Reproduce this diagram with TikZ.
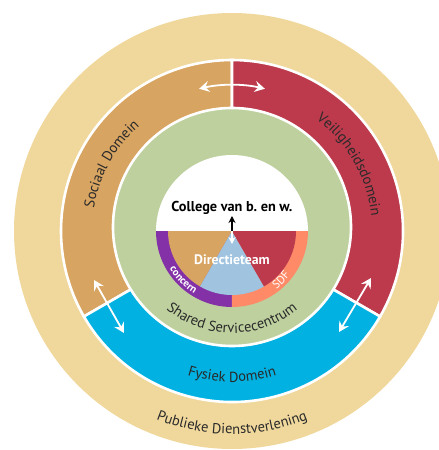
\documentclass[tikz,border=0pt]{standalone}
\usepackage{fontspec}
\setmainfont{PT Sans}
\usetikzlibrary{decorations.text,arrows.meta}
\definecolor{tanc}{HTML}{F0D89C}
\definecolor{orangec}{HTML}{D8A462}
\definecolor{redc}{HTML}{BC3A4C}
\definecolor{bluec}{HTML}{00B1E1}
\definecolor{greenc}{HTML}{BED09E}
\definecolor{purplec}{HTML}{8431A8}
\definecolor{salmonc}{HTML}{FF8A68}
\definecolor{ltbluec}{HTML}{A0C4E0}
\definecolor{txt}{HTML}{2A2A2A}
\tikzset{
  warr/.style={draw=white, line width=1.8pt, {Stealth[length=10pt,width=11pt,inset=3.5pt]}-{Stealth[length=10pt,width=11pt,inset=3.5pt]}},
  sep/.style={draw=white, line width=2.6pt},
  lbl/.style={decorate},
}
\begin{document}
\frenchspacing
\begin{tikzpicture}[x=1pt,y=1pt]
\useasboundingbox (-232,-219) rectangle (207,231);
\clip (-232,-219) rectangle (207,231);
\coordinate (C) at (0,0);
% outer band
\fill[tanc] (C) circle[radius=218];
% domain sectors
\filldraw[fill=orangec, sep] (C) -- (90:171) arc[start angle=90,end angle=210,radius=171] -- cycle;
\filldraw[fill=redc, sep] (C) -- (-30:171) arc[start angle=-30,end angle=90,radius=171] -- cycle;
\filldraw[fill=bluec, sep] (C) -- (210:171) arc[start angle=210,end angle=330,radius=171] -- cycle;
% shared service ring
\filldraw[fill=greenc, sep] (0,4) circle[radius=119];
% inner disk
\fill[white] (C) -- (0:76) arc[start angle=0,end angle=180,radius=76] -- cycle;
\fill[purplec] (C) -- (180:76) arc[start angle=180,end angle=270,radius=76] -- cycle;
\fill[salmonc] (C) -- (270:76) arc[start angle=270,end angle=360,radius=76] -- cycle;
\fill[orangec] (C) -- (180:64) arc[start angle=180,end angle=240,radius=64] -- cycle;
\fill[ltbluec] (C) -- (240:64) arc[start angle=240,end angle=300,radius=64] -- cycle;
\fill[redc] (C) -- (300:64) arc[start angle=300,end angle=360,radius=64] -- cycle;
% curved labels
\path[lbl, decoration={text along path, text align=center, text={|\fontsize{14.5}{16}\selectfont\color{txt}|Sociaal Domein}}]
  (183:140) arc[start angle=183,end angle=119,radius=140];
\path[lbl, decoration={text along path, text align=center, text={|\fontsize{14.5}{16}\selectfont\color{txt}|Veiligheidsdomein}}]
  (67:140) arc[start angle=67,end angle=-8,radius=140];
\path[lbl, decoration={text along path, text align=center, text={|\fontsize{14.5}{16}\selectfont\color{txt}|Fysiek Domein}}]
  (240:151) arc[start angle=240,end angle=300,radius=151];
\path[lbl, decoration={text along path, text align=center, text={|\fontsize{14.5}{16}\selectfont\color{txt}|Shared Servicecentrum}}]
  (210:102) arc[start angle=210,end angle=330,radius=102];
\path[lbl, decoration={text along path, text align=center, text={|\fontsize{14.5}{16}\selectfont\color{txt}|Publieke Dienstverlening}}]
  (238:203) arc[start angle=238,end angle=302,radius=203];
\path[lbl, decoration={text along path, text align=center, text={|\bfseries\fontsize{10.5}{12}\selectfont\color{white}|concern}}]
  (196:73) arc[start angle=196,end angle=254,radius=73];
\path[lbl, decoration={text along path, text align=center, text={|\fontsize{11.5}{12}\selectfont\color{white}|SDF}}]
  (-74:73) arc[start angle=-74,end angle=-16,radius=73];
% center labels
\node[font=\bfseries\fontsize{14.3}{16}\selectfont, text=black, inner sep=0pt] (college) at (0,23) {College van b.\ en w.};
\node[font=\bfseries\fontsize{13.8}{15}\selectfont, text=white, inner sep=0pt] (dir) at (0,-29) {Directieteam};
% center arrows
\coordinate (ctop) at (0,15);
\coordinate (cbot) at (0,-13);
\draw[black, line width=1.3pt, -{Stealth[length=7pt,width=7pt]}] (C) -- (ctop);
\draw[white, line width=1.3pt, -{Stealth[length=7pt,width=7pt]}] (C) -- (cbot);
% domain arrows
\coordinate (ta1) at (103:146);
\coordinate (ta2) at (77:146);
\draw[warr] (ta1) arc[start angle=103,end angle=77,radius=146];
\coordinate (la1) at (-138,-49);
\coordinate (la2) at (-108,-102);
\draw[warr] (la1) -- (la2);
\coordinate (ra1) at (139,-47);
\coordinate (ra2) at (107,-101);
\draw[warr] (ra1) -- (ra2);
\end{tikzpicture}
\end{document}
